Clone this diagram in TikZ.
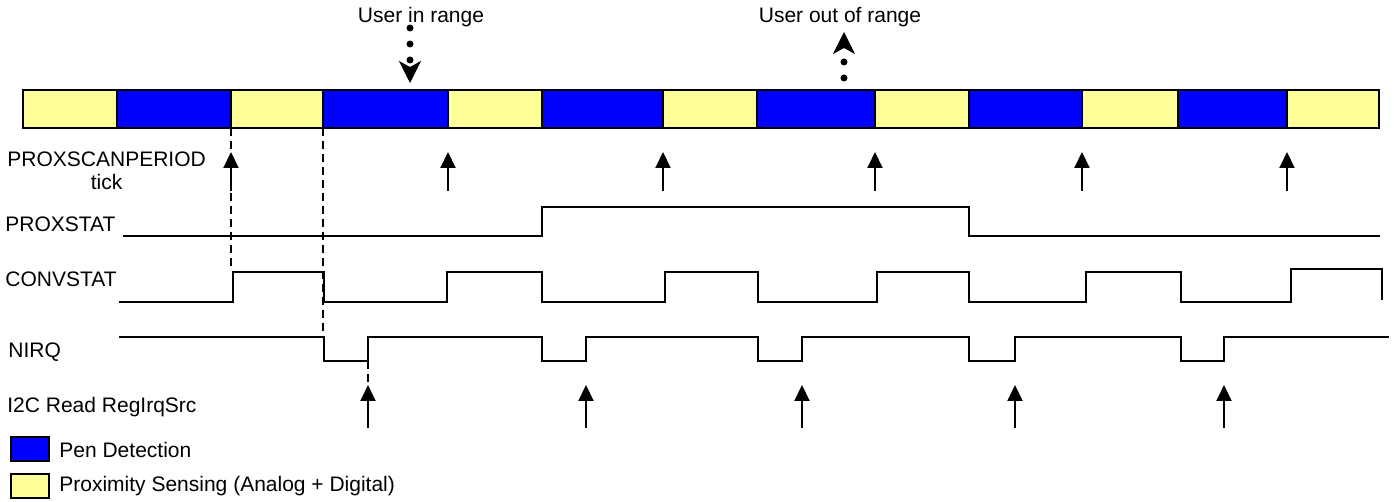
\documentclass[tikz,border=0pt]{standalone}
\usepackage{fontspec}
\setmainfont{Liberation Sans}
\usetikzlibrary{arrows.meta,positioning,fit}
\definecolor{pendet}{HTML}{0000FF}
\definecolor{proxsen}{HTML}{FFFF99}
\definecolor{edgec}{HTML}{000000}

\begin{document}
\begin{tikzpicture}[
  x=0.5pt, y=-0.5pt,
  font=\fontsize{10.5}{11.5}\selectfont,
  seg/.style={rectangle, draw=edgec, line width=1pt, inner sep=0pt, outer sep=0pt},
  key/.style={rectangle, draw=edgec, line width=1pt, inner sep=0pt,
              minimum width=19pt, minimum height=12pt},
  lbl/.style={anchor=base west, inner sep=0pt},
  txt/.style={inner sep=0pt},
  sig/.style={draw=edgec, line width=1pt},
  tickarr/.style={-{Triangle[length=8pt, width=7.5pt]}, draw=edgec, line width=1pt},
  guide/.style={draw=edgec, line width=1pt, dash pattern=on 4pt off 2.5pt},
  usr/.style={draw=edgec, line width=3.5pt, line cap=round, dash pattern=on 0pt off 8pt,
              -{Stealth[length=11pt, width=11pt, inset=3pt, line width=0.5pt]}},
]
\useasboundingbox (0,0) rectangle (1394,502);

% ---- scan slots (yellow = proximity, blue = pen) ----
\foreach \i/\a/\b/\c in {1/23/117/proxsen, 2/117/231/pendet, 3/231/323/proxsen,
    4/323/448/pendet, 5/448/542/proxsen, 6/542/663/pendet, 7/663/757/proxsen,
    8/757/875/pendet, 9/875/969/proxsen, 10/969/1082/pendet, 11/1082/1178/proxsen,
    12/1178/1287/pendet, 13/1287/1379/proxsen}
  \node[seg, fill=\c, fit={(\a,90) (\b,128)}] (s\i) {};

% ---- user events ----
\node[txt, anchor=base] (inr) at (421,23) {User in range};
\node[txt, anchor=base] (outr) at (840,23) {User out of range};
\coordinate (inx) at (410,90);
\coordinate (outx) at (844,90);
\draw[usr, shorten <=2.5pt, shorten >=3.5pt] (inr.base -| inx) -- (inx);
\draw[usr, shorten <=6pt, shorten >=4.5pt] (outx) -- (outr.base -| outx);

% ---- signal names ----
\node[txt, anchor=north west, align=center] (lscan) at (7,151) {PROXSCANPERIOD\\tick};
\node[lbl] (lprox) at (5,232) {PROXSTAT};
\node[lbl] (lconv) at (5,287) {CONVSTAT};
\node[lbl] (lirq) at (8,358) {NIRQ};
\node[lbl] (lread) at (7,413) {I2C Read RegIrqSrc};

% ---- PROXSCANPERIOD ticks ----
\foreach \n in {2,4,6,8,10,12}
  \draw[tickarr, shorten >=12pt] (s\n.south east |- 0,191) -- (s\n.south east);

% ---- waveforms ----
\draw[sig] (123,236) -| (542,207) -| (969,236) -- (1380,236);
\draw[sig] (119,302) -| (233,272) -| (324,302) -| (447,272) -| (542,302)
  -| (665,272) -| (758,302) -| (877,272) -| (969,302) -| (1086,272)
  -| (1181,302) -| (1291,269) -| (1382,300);
\draw[sig] (119,337) -| (324,361) -| (368,337) -| (542,361) -| (586,337)
  -| (758,361) -| (802,337) -| (969,361) -| (1015,337) -| (1181,361)
  -| (1224,337) -- (1389,337);

% ---- register reads ----
\foreach \x [count=\k] in {368,586,802,1015,1224} {
  \coordinate (rd\k) at (\x,385);
  \draw[tickarr] (\x,428) -- (rd\k);
}

% ---- timing guides ----
\coordinate (cvrise) at (231,270);
\coordinate (nqfall) at (323,337);
\coordinate (nqrise) at (368,361);
\draw[guide] (s2.south east) -- (cvrise);
\draw[guide] (s3.south east) -- (nqfall);
\draw[guide] (nqrise) -- (rd1);

% ---- legend ----
\node[key, fill=pendet] (kpen) at (30,449.5) {};
\node[key, fill=proxsen] (kprox) at (30,486.5) {};
\node[txt, right=4.5pt of kpen] (tpen) {Pen Detection};
\node[txt, right=4.5pt of kprox] (tprox) {Proximity Sensing (Analog + Digital)};
\end{tikzpicture}
\end{document}
